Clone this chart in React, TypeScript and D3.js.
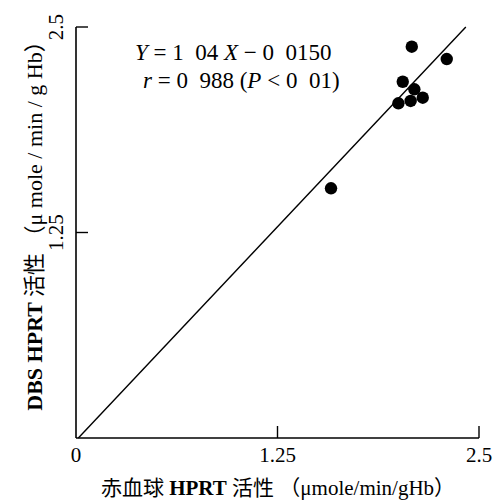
import React, { useEffect, useRef } from 'react';
import * as d3 from 'd3';

// values
const rbcValues = [2.083, 2.3, 2.027, 2.099, 2.151, 2.0, 2.076, 1.582];
const dbsValues = [2.38, 2.305, 2.167, 2.121, 2.07, 2.036, 2.05, 1.519];
const tickValues = [0, 1.25, 2.5];
const slope = 1.04;
const intercept = -0.015;

const App = () => {
  const ref = useRef<SVGSVGElement>(null);

  useEffect(() => {
    const svg = d3.select(ref.current);
    svg.selectAll('*').remove();

    const margin = { top: 27, right: 18, bottom: 64, left: 76 },
      width = 497 - margin.left - margin.right,
      height = 502 - margin.top - margin.bottom;

    const g = svg.append('g')
      .attr('transform', `translate(${margin.left},${margin.top})`);

    const x = d3.scaleLinear().domain([0, 2.5]).range([0, width]);
    const y = d3.scaleLinear().domain([0, 2.5]).range([height, 0]);

    const font = 'Liberation Serif, DejaVu Serif, Noto Sans CJK JP, serif';

    // axes (ticks pointing inward)
    g.append('line')
      .attr('x1', 0).attr('x2', 0).attr('y1', y(2.5)).attr('y2', height)
      .attr('stroke', '#000').attr('stroke-width', 1.6);
    g.append('line')
      .attr('x1', 0).attr('x2', x(2.5)).attr('y1', height).attr('y2', height)
      .attr('stroke', '#000').attr('stroke-width', 1.6);

    g.selectAll('.ytick')
      .data(tickValues.filter(d => d > 0))
      .join('line')
      .attr('x1', 0).attr('x2', 12)
      .attr('y1', d => y(d)).attr('y2', d => y(d))
      .attr('stroke', '#000').attr('stroke-width', 1.4);

    g.selectAll('.xtick')
      .data(tickValues.filter(d => d > 0))
      .join('line')
      .attr('x1', d => x(d)).attr('x2', d => x(d))
      .attr('y1', height).attr('y2', height - 12)
      .attr('stroke', '#000').attr('stroke-width', 1.4);

    // tick labels
    g.selectAll('.xlab')
      .data(tickValues)
      .join('text')
      .attr('x', d => x(d))
      .attr('y', height + 24)
      .attr('text-anchor', 'middle')
      .style('font-family', font)
      .style('font-size', '21px')
      .text(d => String(d));

    g.selectAll('.ylab')
      .data(tickValues.filter(d => d > 0))
      .join('text')
      .attr('transform', d => `translate(-13,${y(d)}) rotate(-90)`)
      .attr('text-anchor', 'middle')
      .style('font-family', font)
      .style('font-size', '21px')
      .text(d => String(d));

    // regression line
    const x0 = -intercept / slope;
    const x1 = (2.5 - intercept) / slope;
    g.append('line')
      .attr('x1', x(x0)).attr('y1', y(0))
      .attr('x2', x(x1)).attr('y2', y(2.5))
      .attr('stroke', '#000').attr('stroke-width', 1.4);

    // points
    g.selectAll('circle')
      .data(rbcValues.map((v, i) => [v, dbsValues[i]]))
      .join('circle')
      .attr('cx', d => x(d[0]))
      .attr('cy', d => y(d[1]))
      .attr('r', 6.2)
      .attr('fill', '#000');

    // equation
    const eq1 = svg.append('text')
      .attr('x', 135).attr('y', 60)
      .style('white-space', 'pre')
      .style('font-family', font)
      .style('font-size', '23px');
    eq1.append('tspan').style('font-style', 'italic').text('Y');
    eq1.append('tspan').text(' = 1  04 ');
    eq1.append('tspan').style('font-style', 'italic').text('X');
    eq1.append('tspan').text(' − 0  0150');

    const eq2 = svg.append('text')
      .attr('x', 143).attr('y', 88)
      .style('white-space', 'pre')
      .style('font-family', font)
      .style('font-size', '23px');
    eq2.append('tspan').style('font-style', 'italic').text('r');
    eq2.append('tspan').text(' = 0  988 (');
    eq2.append('tspan').style('font-style', 'italic').text('P');
    eq2.append('tspan').text(' < 0  01)');

    // axis titles
    const xt = svg.append('text')
      .attr('x', 278).attr('y', 495)
      .attr('text-anchor', 'middle')
      .style('white-space', 'pre')
      .style('font-family', font)
      .style('font-size', '21px');
    xt.append('tspan').text('赤血球 ');
    xt.append('tspan').style('font-weight', 'bold').text('HPRT');
    xt.append('tspan').text(' 活性 （μmole/min/gHb）');

    const yt = svg.append('text')
      .attr('transform', `translate(42,${margin.top + height / 2 - 12}) rotate(-90)`)
      .attr('text-anchor', 'middle')
      .style('white-space', 'pre')
      .style('font-family', font)
      .style('font-size', '22px');
    yt.append('tspan').style('font-weight', 'bold').text('DBS HPRT ');
    yt.append('tspan').text('活性 （μ mole / min / g Hb）');
  }, []);

  return <svg ref={ref} width={497} height={502} style={{ position: 'absolute', left: 0, top: 0 }} />;
};

export default App;
